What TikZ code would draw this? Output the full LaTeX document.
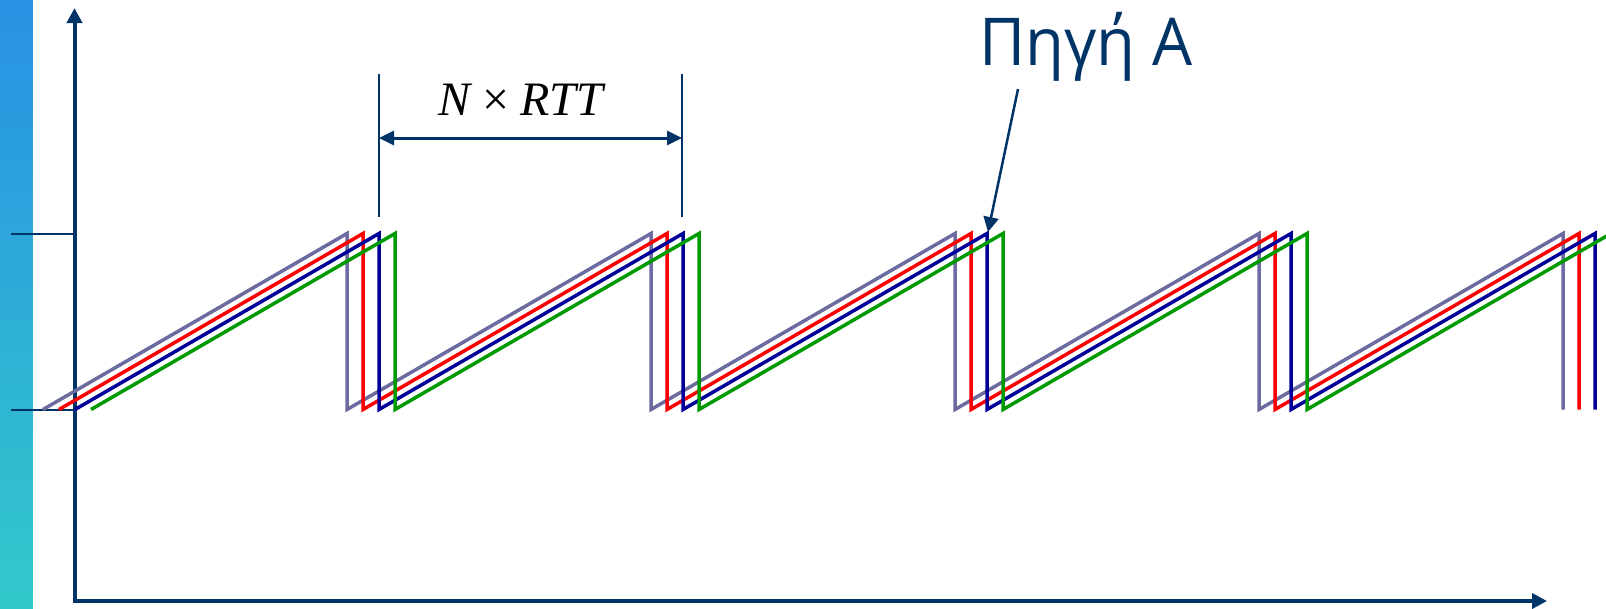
\documentclass[tikz,border=0pt]{standalone}
\usepackage{fontspec}
\setmainfont{Liberation Serif}
\newfontfamily\greekhand{Open Sans}
\usetikzlibrary{arrows.meta}
\definecolor{navy}{RGB}{0,51,102}
\definecolor{sawgray}{RGB}{107,107,160}
\definecolor{sawred}{RGB}{255,0,0}
\definecolor{sawblue}{RGB}{0,0,153}
\definecolor{sawgreen}{RGB}{0,153,0}
\definecolor{bartop}{RGB}{40,145,228}
\definecolor{barbot}{RGB}{51,200,203}
\begin{document}
\begin{tikzpicture}[x=1pt,y=-1pt,
  axis/.style={draw=navy,line width=4pt,-{Triangle[length=15pt,width=15pt]}},
  tickline/.style={draw=navy,line width=2pt},
  saw/.style={line width=3.5pt},
  dimline/.style={draw=navy,line width=2pt},
  dimarrow/.style={draw=navy,line width=3pt,{Triangle[length=15pt,width=14pt]}-{Triangle[length=15pt,width=14pt]}},
  pointer/.style={draw=navy,line width=2.5pt,-{Triangle[length=15pt,width=15pt]}},
  lbl/.style={inner sep=0pt,anchor=base}]
\useasboundingbox (0,0) rectangle (1606,608);
\clip (0,0) rectangle (1606,608);
% left gradient bar
\foreach \i in {0,...,37} {
  \pgfmathsetmacro\p{100-\i*100/37}
  \fill[bartop!\p!barbot] (0,{\i*16}) rectangle (33,{\i*16+17});
}
% axes
\coordinate (O) at (74.5,601);
\coordinate (ytip) at (74.5,8);
\coordinate (xtip) at (1547,601);
\draw[axis] (74.5,603) -- (ytip);
\draw[axis] (72.5,601) -- (xtip);
% ticks
\coordinate (thi) at (74.5,233.5);
\coordinate (tlo) at (74.5,409.5);
\draw[tickline] (11,233.5) -- (thi);
\draw[tickline] (11,409.5) -- (tlo);
% sawtooth curves
\foreach \o/\c in {43/sawgray,59/sawred,75/sawblue,91/sawgreen} {
  \draw[saw,draw=\c] (\o,409.5)
    \foreach \k in {1,...,5} { -- ({\o+304*\k},233.5) -- ({\o+304*\k},409.5) };
}
% N x RTT dimension
\coordinate (d1t) at (379,74);
\coordinate (d1b) at (379,217);
\coordinate (d2t) at (682,74);
\coordinate (d2b) at (682,217);
\draw[dimline] (d1t) -- (d1b);
\draw[dimline] (d2t) -- (d2b);
\coordinate (a1) at (379,138);
\coordinate (a2) at (682,138);
\draw[dimarrow] (a1) -- (a2);
\node[lbl] (nrtt) at (522,115) {\fontsize{48}{48}\selectfont\textit{N}\hspace{0.22em}×\hspace{0.22em}\textit{RTT}};
% source A label
\node[lbl,anchor=base west,text=navy] (srclbl) at (979,65) {\scalebox{0.96}[1]{\greekhand\fontsize{66}{66}\selectfont Πηγή Α}};
\coordinate (srcstart) at (1018,89);
\coordinate (peakA) at (988,232);
\draw[pointer] (srcstart) -- (peakA);
\end{tikzpicture}
\end{document}
